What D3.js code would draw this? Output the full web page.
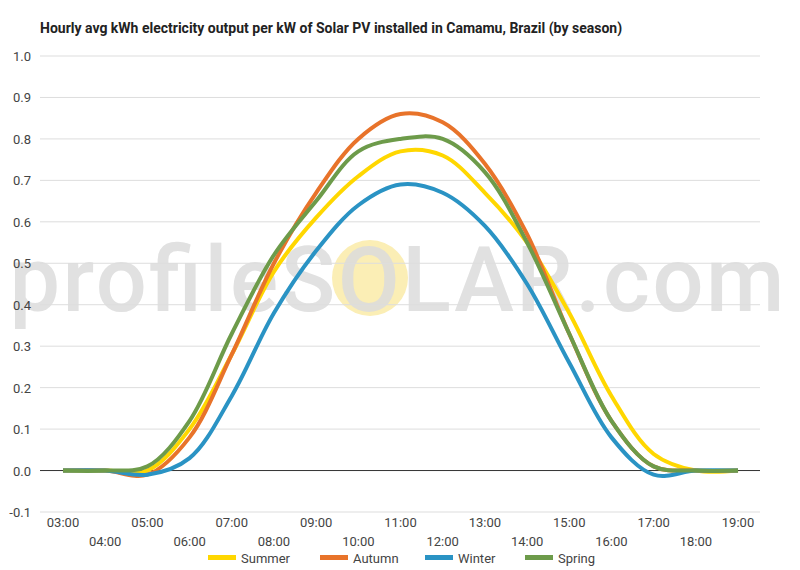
<!DOCTYPE html>
<html><head><meta charset="utf-8">
<script src="https://cdn.jsdelivr.net/npm/d3@7"></script>
<style>body{margin:0;background:#fff;font-family:Roboto,sans-serif}</style>
</head><body><svg id="c" width="800" height="570"></svg>
<script>
var hours = ['03:00','04:00','05:00','06:00','07:00','08:00','09:00','10:00','11:00','12:00','13:00','14:00','15:00','16:00','17:00','18:00','19:00'];
var summer = [0,0,0,0.10,0.28,0.48,0.61,0.71,0.77,0.76,0.67,0.55,0.38,0.18,0.04,0,0];
var autumn = [0,0,-0.01,0.08,0.28,0.50,0.67,0.80,0.86,0.84,0.74,0.57,0.33,0.12,0.01,0,0];
var winter = [0,0,-0.01,0.03,0.18,0.38,0.53,0.64,0.69,0.67,0.59,0.45,0.26,0.08,-0.01,0,0];
var spring = [0,0,0.01,0.12,0.33,0.52,0.65,0.77,0.80,0.80,0.72,0.55,0.33,0.12,0.01,0,0];
var seriesNames = ['Summer','Autumn','Winter','Spring'];
var colors = ['#ffd700','#e8732a','#2a93c4','#6d9b4a'];
var yTicks = [-0.1,0,0.1,0.2,0.3,0.4,0.5,0.6,0.7,0.8,0.9,1.0];

var svg = d3.select('#c');
var x = d3.scaleLinear().domain([0,hours.length-1]).range([63,738]);
var y = d3.scaleLinear().domain([-0.1,1.0]).range([512,56]);

svg.append('text').attr('x',40).attr('y',33).attr('font-size',14).attr('font-weight','bold')
    .attr('fill','#222').text('Hourly avg kWh electricity output per kW of Solar PV installed in Camamu, Brazil (by season)');

// watermark
var wm = svg.append('g');
wm.append('circle').attr('cx',370).attr('cy',278).attr('r',38).attr('fill','#fbeeb5');
wm.append('text').attr('x',397).attr('y',311).attr('text-anchor','middle').attr('font-size',90)
    .attr('font-weight',500).attr('fill','#dcdcdc').attr('opacity',0.85)
    .attr('textLength',775).text('profileSOLAR.com');

// gridlines
svg.selectAll('.grid').data(yTicks).enter().append('line')
    .attr('x1',40).attr('x2',760)
    .attr('y1',function(d){return y(d);}).attr('y2',function(d){return y(d);})
    .attr('stroke',function(d){return d===0?'#333':'#ddd';}).attr('stroke-width',1);
svg.selectAll('.ylab').data(yTicks).enter().append('text')
    .attr('x',31).attr('y',function(d){return y(d)+5;}).attr('text-anchor','end')
    .attr('font-size',13).attr('fill','#444').text(function(d){return d.toFixed(1);});

svg.selectAll('.xlab').data(hours).enter().append('text')
    .attr('x',function(d,i){return x(i);}).attr('y',function(d,i){return i%2?546:527;})
    .attr('text-anchor','middle').attr('font-size',13).attr('fill','#444').text(function(d){return d;});

var line = d3.line().x(function(d,i){return x(i);}).y(function(d){return y(d);}).curve(d3.curveCatmullRom.alpha(0.5));
[summer,autumn,winter,spring].forEach(function(s,k){
    svg.append('path').datum(s).attr('d',line).attr('fill','none')
        .attr('stroke',colors[k]).attr('stroke-width',4);
});

// legend
var lx = [208,320,425,525];
seriesNames.forEach(function(n,k){
    svg.append('rect').attr('x',lx[k]).attr('y',555).attr('width',28).attr('height',5).attr('fill',colors[k]);
    svg.append('text').attr('x',lx[k]+33).attr('y',563).attr('font-size',13).attr('fill','#444').text(n);
});
</script></body></html>
